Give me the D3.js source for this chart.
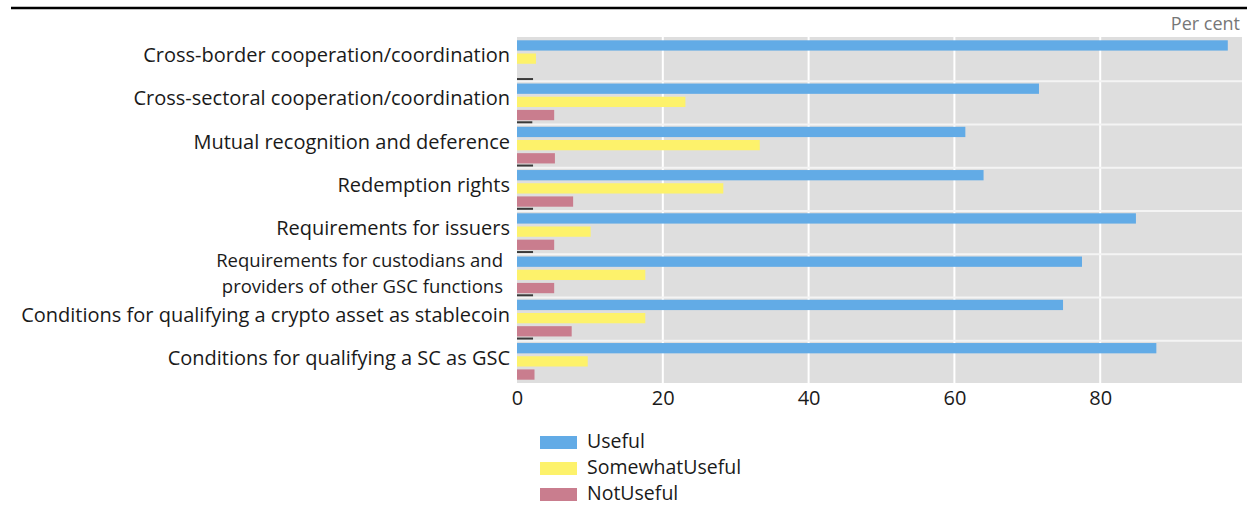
<!DOCTYPE html>
<html>
<head>
<meta charset="utf-8">
<script src="https://cdn.jsdelivr.net/npm/d3@7"></script>
<style>
  html, body { margin: 0; padding: 0; background: #fff; }
  svg { display: block; font-family: "Open Sans", "Noto Sans", sans-serif; }
</style>
</head>
<body>
<svg id="chart" width="1247" height="507"></svg>
<script>
const categories = [
  "Cross-border cooperation/coordination",
  "Cross-sectoral cooperation/coordination",
  "Mutual recognition and deference",
  "Redemption rights",
  "Requirements for issuers",
  "Requirements for custodians and|providers of other GSC functions",
  "Conditions for qualifying a crypto asset as stablecoin",
  "Conditions for qualifying a SC as GSC"
];
const seriesNames = ["Useful", "SomewhatUseful", "NotUseful"];
const useful =         [97.5, 71.6, 61.5, 64.0, 84.9, 77.5, 74.9, 87.7];
const somewhatUseful = [2.6, 23.1, 33.3, 28.3, 10.1, 17.6, 17.6, 9.7];
const notUseful =      [0, 5.1, 5.2, 7.7, 5.1, 5.1, 7.5, 2.4];
const otherMarks =     [2.2, 2.1, 2.2, 2.2, 2.2, 2.2, 2.2];
const xTicks = [0, 20, 40, 60, 80];
const colors = ["#62abe6", "#fdf26b", "#c97d8e"];

const svg = d3.select("#chart");
const pLeft = 517, pRight = 1242, pTop = 37, pBottom = 383;

const x = d3.scaleLinear().domain([0, 99.45]).range([pLeft, pRight]);
const y0 = d3.scaleBand().domain(categories).range([pTop, pBottom]);
const y1 = d3.scaleBand().domain(seriesNames).range([0, y0.bandwidth()])
  .paddingInner(0.22).paddingOuter(0.25);

// top rule
svg.append("line").attr("x1", 11).attr("x2", 1247).attr("y1", 8).attr("y2", 8)
  .attr("stroke", "#000").attr("stroke-width", 2.5);

// per cent
svg.append("text").attr("x", 1240).attr("y", 30).attr("text-anchor", "end")
  .attr("font-size", 18).attr("fill", "#777").text("Per cent");

// background
svg.append("rect").attr("x", pLeft).attr("y", pTop).attr("width", pRight - pLeft)
  .attr("height", pBottom - pTop).attr("fill", "#dedede");

// vertical gridlines
svg.append("g").selectAll("line").data(xTicks.slice(1)).join("line")
  .attr("x1", d => x(d)).attr("x2", d => x(d)).attr("y1", pTop).attr("y2", pBottom)
  .attr("stroke", "#fff").attr("stroke-width", 2);

// horizontal group separators
svg.append("g").selectAll("line").data(categories.slice(1)).join("line")
  .attr("x1", pLeft).attr("x2", pRight)
  .attr("y1", d => y0(d) + 1).attr("y2", d => y0(d) + 1)
  .attr("stroke", "#f4f4f4").attr("stroke-width", 2);

// bars
const seriesData = [useful, somewhatUseful, notUseful];
seriesData.forEach((vals, si) => {
  svg.append("g").selectAll("rect").data(vals).join("rect")
    .attr("x", x(0))
    .attr("y", (d, i) => y0(categories[i]) + y1(seriesNames[si]))
    .attr("width", d => x(d) - x(0))
    .attr("height", y1.bandwidth())
    .attr("fill", colors[si]);
});

// small dark marks at group boundaries
svg.append("g").selectAll("rect").data(otherMarks).join("rect")
  .attr("x", x(0))
  .attr("y", (d, i) => y0(categories[i + 1]) - 2.2)
  .attr("width", d => x(d) - x(0))
  .attr("height", 2)
  .attr("fill", "#3a3a3a");

// category labels
const labels = svg.append("g").attr("fill", "#1a1a1a")
  .attr("text-anchor", "end");
categories.forEach(c => {
  const lines = c.split("|");
  const multi = lines.length > 1;
  const cy = y0(c) + y0.bandwidth() / 2 - (multi ? 1.5 : 3.5);
  const lh = 25.6;
  lines.forEach((ln, k) => {
    labels.append("text")
      .attr("font-size", multi ? 18.5 : 20)
      .attr("x", multi ? 503 : 510)
      .attr("y", cy + (k - (lines.length - 1) / 2) * lh)
      .attr("dy", "0.35em")
      .text(ln);
  });
});

// x axis labels
const xAxis = d3.axisBottom(x).tickValues(xTicks).tickSize(0).tickPadding(8);
const gx = svg.append("g").attr("transform", `translate(0,${pBottom})`).call(xAxis);
gx.select(".domain").remove();
gx.selectAll("text").attr("font-size", 20).attr("fill", "#1a1a1a")
  .attr("font-family", "'Open Sans', 'Noto Sans', sans-serif");

// legend
const lg = svg.append("g");
seriesNames.forEach((s, i) => {
  const yy = 436 + i * 26;
  lg.append("rect").attr("x", 540).attr("y", yy).attr("width", 37).attr("height", 13)
    .attr("fill", colors[i]);
  lg.append("text").attr("x", 587).attr("y", yy + 5).attr("dy", "0.35em")
    .attr("font-size", 19.5).attr("fill", "#1a1a1a").text(s);
});
</script>
</body>
</html>
